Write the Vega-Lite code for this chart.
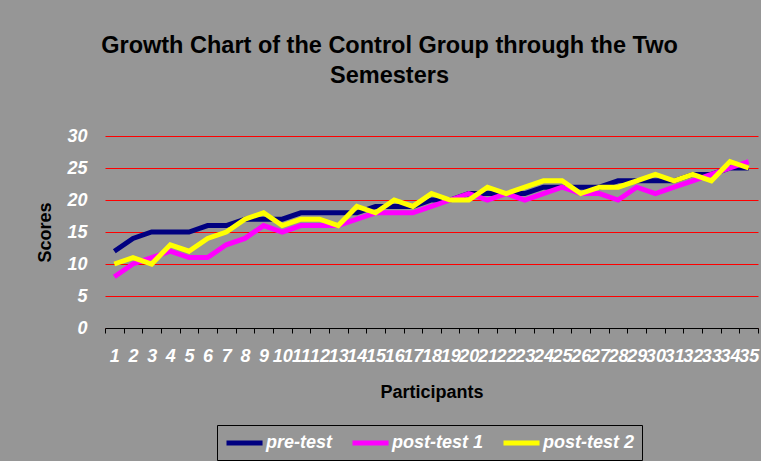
{
  "$schema": "https://vega.github.io/schema/vega-lite/v6.json",
  "width": 653,
  "height": 192,
  "autosize": {"type": "none"},
  "padding": {"left": 105, "top": 136, "right": 3, "bottom": 133},
  "background": "#969696",
  "title": {
    "text": ["Growth Chart of the Control Group through the Two", "Semesters"],
    "font": "Liberation Sans",
    "fontSize": 23.5,
    "fontWeight": "bold",
    "color": "black",
    "lineHeight": 30,
    "anchor": "middle",
    "dx": -42,
    "offset": 40
  },
  "data": {
    "values": [
      {"participant": 1, "test": "pre-test", "score": 12},
      {"participant": 2, "test": "pre-test", "score": 14},
      {"participant": 3, "test": "pre-test", "score": 15},
      {"participant": 4, "test": "pre-test", "score": 15},
      {"participant": 5, "test": "pre-test", "score": 15},
      {"participant": 6, "test": "pre-test", "score": 16},
      {"participant": 7, "test": "pre-test", "score": 16},
      {"participant": 8, "test": "pre-test", "score": 17},
      {"participant": 9, "test": "pre-test", "score": 17},
      {"participant": 10, "test": "pre-test", "score": 17},
      {"participant": 11, "test": "pre-test", "score": 18},
      {"participant": 12, "test": "pre-test", "score": 18},
      {"participant": 13, "test": "pre-test", "score": 18},
      {"participant": 14, "test": "pre-test", "score": 18},
      {"participant": 15, "test": "pre-test", "score": 19},
      {"participant": 16, "test": "pre-test", "score": 19},
      {"participant": 17, "test": "pre-test", "score": 19},
      {"participant": 18, "test": "pre-test", "score": 20},
      {"participant": 19, "test": "pre-test", "score": 20},
      {"participant": 20, "test": "pre-test", "score": 21},
      {"participant": 21, "test": "pre-test", "score": 21},
      {"participant": 22, "test": "pre-test", "score": 21},
      {"participant": 23, "test": "pre-test", "score": 21},
      {"participant": 24, "test": "pre-test", "score": 22},
      {"participant": 25, "test": "pre-test", "score": 22},
      {"participant": 26, "test": "pre-test", "score": 22},
      {"participant": 27, "test": "pre-test", "score": 22},
      {"participant": 28, "test": "pre-test", "score": 23},
      {"participant": 29, "test": "pre-test", "score": 23},
      {"participant": 30, "test": "pre-test", "score": 23},
      {"participant": 31, "test": "pre-test", "score": 23},
      {"participant": 32, "test": "pre-test", "score": 24},
      {"participant": 33, "test": "pre-test", "score": 24},
      {"participant": 34, "test": "pre-test", "score": 25},
      {"participant": 35, "test": "pre-test", "score": 25},
      {"participant": 1, "test": "post-test 1", "score": 8},
      {"participant": 2, "test": "post-test 1", "score": 10},
      {"participant": 3, "test": "post-test 1", "score": 11},
      {"participant": 4, "test": "post-test 1", "score": 12},
      {"participant": 5, "test": "post-test 1", "score": 11},
      {"participant": 6, "test": "post-test 1", "score": 11},
      {"participant": 7, "test": "post-test 1", "score": 13},
      {"participant": 8, "test": "post-test 1", "score": 14},
      {"participant": 9, "test": "post-test 1", "score": 16},
      {"participant": 10, "test": "post-test 1", "score": 15},
      {"participant": 11, "test": "post-test 1", "score": 16},
      {"participant": 12, "test": "post-test 1", "score": 16},
      {"participant": 13, "test": "post-test 1", "score": 16},
      {"participant": 14, "test": "post-test 1", "score": 17},
      {"participant": 15, "test": "post-test 1", "score": 18},
      {"participant": 16, "test": "post-test 1", "score": 18},
      {"participant": 17, "test": "post-test 1", "score": 18},
      {"participant": 18, "test": "post-test 1", "score": 19},
      {"participant": 19, "test": "post-test 1", "score": 20},
      {"participant": 20, "test": "post-test 1", "score": 21},
      {"participant": 21, "test": "post-test 1", "score": 20},
      {"participant": 22, "test": "post-test 1", "score": 21},
      {"participant": 23, "test": "post-test 1", "score": 20},
      {"participant": 24, "test": "post-test 1", "score": 21},
      {"participant": 25, "test": "post-test 1", "score": 22},
      {"participant": 26, "test": "post-test 1", "score": 21},
      {"participant": 27, "test": "post-test 1", "score": 21},
      {"participant": 28, "test": "post-test 1", "score": 20},
      {"participant": 29, "test": "post-test 1", "score": 22},
      {"participant": 30, "test": "post-test 1", "score": 21},
      {"participant": 31, "test": "post-test 1", "score": 22},
      {"participant": 32, "test": "post-test 1", "score": 23},
      {"participant": 33, "test": "post-test 1", "score": 24},
      {"participant": 34, "test": "post-test 1", "score": 25},
      {"participant": 35, "test": "post-test 1", "score": 26},
      {"participant": 1, "test": "post-test 2", "score": 10},
      {"participant": 2, "test": "post-test 2", "score": 11},
      {"participant": 3, "test": "post-test 2", "score": 10},
      {"participant": 4, "test": "post-test 2", "score": 13},
      {"participant": 5, "test": "post-test 2", "score": 12},
      {"participant": 6, "test": "post-test 2", "score": 14},
      {"participant": 7, "test": "post-test 2", "score": 15},
      {"participant": 8, "test": "post-test 2", "score": 17},
      {"participant": 9, "test": "post-test 2", "score": 18},
      {"participant": 10, "test": "post-test 2", "score": 16},
      {"participant": 11, "test": "post-test 2", "score": 17},
      {"participant": 12, "test": "post-test 2", "score": 17},
      {"participant": 13, "test": "post-test 2", "score": 16},
      {"participant": 14, "test": "post-test 2", "score": 19},
      {"participant": 15, "test": "post-test 2", "score": 18},
      {"participant": 16, "test": "post-test 2", "score": 20},
      {"participant": 17, "test": "post-test 2", "score": 19},
      {"participant": 18, "test": "post-test 2", "score": 21},
      {"participant": 19, "test": "post-test 2", "score": 20},
      {"participant": 20, "test": "post-test 2", "score": 20},
      {"participant": 21, "test": "post-test 2", "score": 22},
      {"participant": 22, "test": "post-test 2", "score": 21},
      {"participant": 23, "test": "post-test 2", "score": 22},
      {"participant": 24, "test": "post-test 2", "score": 23},
      {"participant": 25, "test": "post-test 2", "score": 23},
      {"participant": 26, "test": "post-test 2", "score": 21},
      {"participant": 27, "test": "post-test 2", "score": 22},
      {"participant": 28, "test": "post-test 2", "score": 22},
      {"participant": 29, "test": "post-test 2", "score": 23},
      {"participant": 30, "test": "post-test 2", "score": 24},
      {"participant": 31, "test": "post-test 2", "score": 23},
      {"participant": 32, "test": "post-test 2", "score": 24},
      {"participant": 33, "test": "post-test 2", "score": 23},
      {"participant": 34, "test": "post-test 2", "score": 26},
      {"participant": 35, "test": "post-test 2", "score": 25}
    ]
  },
  "mark": {"type": "line", "strokeWidth": 5, "strokeJoin": "miter", "strokeCap": "butt"},
  "encoding": {
    "x": {
      "field": "participant",
      "type": "ordinal",
      "bandPosition": 0.5,
      "scale": {"type": "band", "paddingInner": 0, "paddingOuter": 0},
      "axis": {
        "title": "Participants",
        "labelAngle": 0,
        "labelOverlap": false,
        "tickBand": "extent",
        "grid": false,
        "domainColor": "black",
        "domainWidth": 1,
        "tickColor": "black",
        "tickSize": 5,
        "labelPadding": 14,
        "labelColor": "white",
        "labelFont": "Liberation Sans",
        "labelFontSize": 18,
        "labelFontStyle": "italic",
        "labelFontWeight": "bold",
        "titleFont": "Liberation Sans",
        "titleFontSize": 18,
        "titleFontWeight": "bold",
        "titleColor": "black",
        "titlePadding": 18
      }
    },
    "y": {
      "field": "score",
      "type": "quantitative",
      "scale": {"domain": [0, 30], "nice": false},
      "axis": {
        "title": "Scores",
        "values": [0, 5, 10, 15, 20, 25, 30],
        "domain": false,
        "ticks": false,
        "tickSize": 0,
        "grid": true,
        "gridColor": "#ff0000",
        "gridWidth": 1,
        "gridOpacity": 1,
        "labelPadding": 18,
        "labelColor": "white",
        "labelFont": "Liberation Sans",
        "labelFontSize": 18,
        "labelFontStyle": "italic",
        "labelFontWeight": "bold",
        "titleFont": "Liberation Sans",
        "titleFontSize": 18,
        "titleFontWeight": "bold",
        "titleColor": "black",
        "titlePadding": 12
      }
    },
    "color": {
      "field": "test",
      "type": "nominal",
      "sort": ["pre-test", "post-test 1", "post-test 2"],
      "scale": {"domain": ["pre-test", "post-test 1", "post-test 2"], "range": ["#000080", "#ff00ff", "#ffff00"]},
      "legend": {
        "title": null,
        "orient": "none",
        "legendX": 112,
        "legendY": 289,
        "direction": "horizontal",
        "symbolType": "M-1,0H3.24",
        "symbolSize": 289,
        "symbolStrokeWidth": 5,
        "labelColor": "white",
        "labelFont": "Liberation Sans",
        "labelFontSize": 18,
        "labelFontStyle": "italic",
        "labelFontWeight": "bold",
        "labelOffset": 20,
        "columnPadding": 9,
        "padding": 7,
        "strokeColor": "black",
        "fillColor": "#969696"
      }
    }
  },
  "config": {"view": {"stroke": null}}
}
